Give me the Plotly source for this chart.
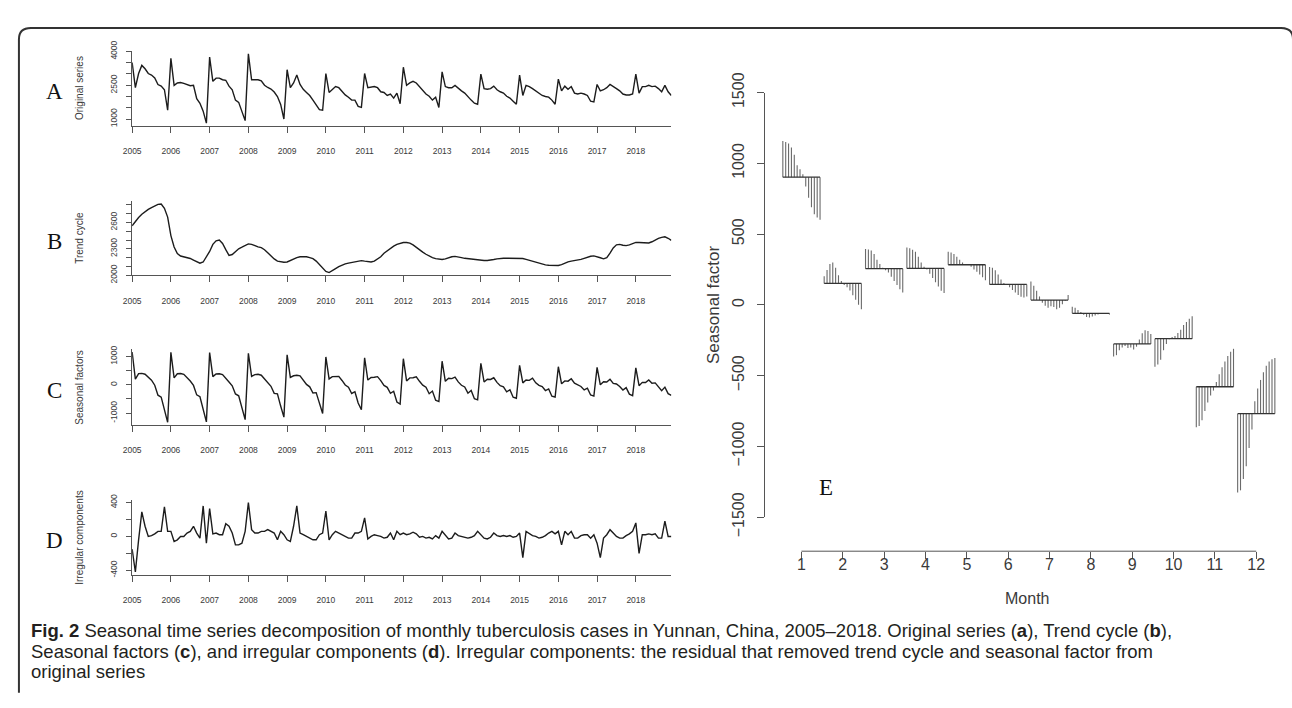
import plotly.graph_objects as go

W, H = 1292, 708

YEARS = list(range(2005, 2019))
MONTH_LABELS = [str(m) for m in range(1, 13)]

# ---- Panel A: original series (monthly, 2005-01 .. 2018-12)
original_series = [
    3510, 2393, 3020, 3380, 3230, 3020, 2950, 2820, 2530, 2460, 2300, 1390,
    3690, 2494, 2600, 2620, 2580, 2520, 2480, 2500, 1900, 1700, 1350, 820,
    3749, 2674, 2814, 2814, 2744, 2720, 2460, 2300, 1837, 1740, 1347, 930,
    3890, 2744, 2744, 2744, 2700, 2500, 2400, 2333, 2200, 2000, 1650, 1000,
    3190, 2393, 2602, 2950, 2535, 2320, 2180, 2045, 1840, 1630, 1420, 1390,
    3020, 2180, 2300, 2440, 2390, 2210, 2070, 1970, 1840, 1840, 1560, 1520,
    3020, 2393, 2420, 2440, 2390, 2210, 2180, 2045, 2110, 1930, 2150, 1680,
    3300, 2494, 2602, 2674, 2600, 2440, 2300, 2110, 2010, 1840, 1970, 1515,
    3092, 2440, 2390, 2390, 2494, 2350, 2250, 2150, 1970, 1840, 1700, 1655,
    2995, 2350, 2320, 2350, 2460, 2300, 2210, 2150, 2010, 1930, 1790, 1655,
    2950, 2045, 2494, 2440, 2350, 2250, 2110, 2045, 2000, 1970, 1840, 1655,
    2770, 2250, 2460, 2320, 2440, 2150, 2110, 2150, 2110, 2045, 1790, 1760,
    2535, 2250, 2300, 2390, 2535, 2460, 2350, 2250, 2110, 2070, 2070, 2110,
    2995, 2150, 2440, 2440, 2494, 2440, 2460, 2350, 2210, 2494, 2210, 2045,
]

# ---- Panel B: trend cycle
trend_cycle = [
    2562, 2610, 2655, 2692, 2722, 2748, 2768, 2787, 2805, 2808, 2760, 2660,
    2450, 2320, 2245, 2218, 2210, 2204, 2190, 2172, 2150, 2136, 2150, 2205,
    2270, 2350, 2390, 2400, 2360, 2290, 2225, 2235, 2270, 2300, 2318, 2340,
    2356, 2350, 2333, 2322, 2313, 2290, 2255, 2215, 2185, 2160, 2150, 2148,
    2150, 2168, 2185, 2200, 2210, 2212, 2210, 2200, 2188, 2160, 2120, 2080,
    2042, 2030, 2048, 2075, 2098, 2115, 2128, 2137, 2146, 2153, 2162, 2166,
    2160, 2155, 2150, 2160, 2185, 2210, 2250, 2280, 2305, 2330, 2350, 2365,
    2372, 2372, 2365, 2345, 2315, 2290, 2262, 2238, 2215, 2200, 2188, 2182,
    2179, 2185, 2198, 2210, 2214, 2210, 2200, 2192, 2187, 2182, 2176, 2170,
    2168, 2167, 2167, 2170, 2178, 2186, 2192, 2193, 2193, 2193, 2193, 2193,
    2192, 2190, 2180, 2168, 2157, 2147, 2135, 2124, 2117, 2113, 2110, 2108,
    2110, 2120, 2138, 2152, 2160, 2165, 2172, 2180, 2192, 2205, 2215, 2220,
    2212, 2198, 2186, 2200, 2250, 2310, 2345, 2350, 2340, 2336, 2345, 2360,
    2372, 2372, 2368, 2365, 2366, 2380, 2400, 2418, 2430, 2436, 2420, 2395,
]

# ---- Panel D: irregular components
irregular = [
    -150, -420, -40, 290, 120, 0, 10, 30, 60, 60, 350, 60,
    60, -60, -40, 0, 0, 40, 60, 120, 40, -20, 360, -80,
    330, 30, 40, 20, 20, 150, 120, 40, -100, -100, -80, 60,
    400, 80, 40, 40, 60, 60, 80, 60, 40, -40, 60, 20,
    -40, -60, 120, 360, 40, 20, 0, -20, -40, -40, 20, 40,
    300, -40, 20, 60, 40, 20, 0, -20, -20, 40, 40, 60,
    220, -30, 0, 20, 10, 0, -20, -10, 40, -40, 60, 20,
    40, 20, 30, 50, 30, -10, 0, -20, -10, -30, 10, -20,
    60, 20, -30, -20, 40, 10, 0, -10, -20, -10, 10, 60,
    20, -20, -30, -10, 40, 10, 0, 10, 0, 10, -10, 0,
    40, -250, 60, 30, 10, 0, -20, -10, 10, 40, 60, 30,
    60, -100, 60, 20, 60, -20, -20, 10, 20, 20, -20, 20,
    -80, -250, -20, 20, 80, 40, 0, -20, -20, 10, 30, 60,
    160, -200, 20, 20, 30, 20, 30, -20, -20, 180, 0, 0,
]

# ---- Panels C and E: seasonal factors by calendar month, years 2005..2018
sf_jan = [1158, 1151, 1140, 1113, 1062, 987, 958, 924, 836, 758, 691, 640, 618, 602]
sf_feb = [202, 247, 290, 300, 262, 210, 170, 140, 125, 102, 69, 36, 2, -31]
sf_mar = [395, 392, 385, 360, 320, 290, 262, 245, 230, 200, 170, 140, 110, 88]
sf_apr = [405, 400, 390, 375, 340, 300, 270, 250, 220, 190, 160, 130, 100, 85]
sf_may = [375, 370, 360, 340, 320, 300, 290, 282, 270, 250, 235, 215, 195, 175]
sf_jun = [268, 262, 245, 215, 180, 155, 148, 125, 105, 88, 70, 58, 52, 60]
sf_jul = [165, 135, 100, 60, 15, -5, -20, -10, -15, -30, -20, 5, 30, 70]
sf_aug = [-13, -20, -35, -50, -70, -85, -88, -82, -75, -68, -62, -58, -60, -68]
sf_sep = [-365, -355, -320, -300, -290, -305, -300, -315, -295, -245, -200, -178, -185, -205]
sf_oct = [-436, -420, -387, -320, -276, -242, -226, -220, -198, -176, -142, -120, -98, -80]
sf_nov = [-865, -855, -815, -750, -690, -640, -605, -545, -490, -440, -400, -360, -330, -310]
sf_dec = [-1325, -1310, -1230, -1140, -1010, -880, -680, -590, -530, -475, -430, -400, -383, -375]
seasonal_by_month = [sf_jan, sf_feb, sf_mar, sf_apr, sf_may, sf_jun,
                     sf_jul, sf_aug, sf_sep, sf_oct, sf_nov, sf_dec]

# ---------------------------------------------------------------------------
seasonal_series = [seasonal_by_month[m][y] for y in range(len(YEARS)) for m in range(12)]
time = [YEARS[0] + i / 12 for i in range(len(original_series))]


def fx(p):
    return p / W


def fy(p):
    return 1 - p / H


def r_range(vals):
    """Axis range padded by 4% on each side (R's default)."""
    lo, hi = min(vals), max(vals)
    d = hi - lo
    return [lo - 0.04 * d, hi + 0.04 * d]


AXC = "#555555"
TXC = "#3a3a3a"
LINE = "#1c1c1c"

fig = go.Figure()

panels = [
    # series, axis suffix, plot-region top/bottom (px), tick values, labelled ticks, title, letter
    (original_series, "", 33.0, 112.2,
     [1000, 1500, 2000, 2500, 3000, 3500, 4000], [1000, 2500, 4000],
     "Original series", "A"),
    (trend_cycle, "2", 192.2, 270.6,
     [2000, 2100, 2200, 2300, 2400, 2500, 2600, 2700, 2800], [2000, 2300, 2600],
     "Trend cycle", "B"),
    (seasonal_series, "3", 349.0, 429.4,
     [-1000, -500, 0, 500, 1000], [-1000, 0, 1000],
     "Seasonal factors", "C"),
    (irregular, "4", 508.5, 588.0,
     [-400, -200, 0, 200, 400], [-400, 0, 400],
     "Irregular components", "D"),
]

annotations = []
for series, sfx, top, bot, tv, lab, title, letter in panels:
    xa, ya = "x" + sfx, "y" + sfx
    fig.add_trace(go.Scatter(x=time, y=series, xaxis=xa, yaxis=ya, mode="lines",
                             line=dict(color=LINE, width=1.4), showlegend=False,
                             hoverinfo="skip"))
    fig.update_layout(**{
        "xaxis" + sfx: dict(domain=[fx(124), fx(667)], range=[time[0], time[-1]],
                            anchor=ya, tickmode="array", tickvals=YEARS,
                            ticktext=[str(y) for y in YEARS], ticks="outside", ticklen=6,
                            tickcolor=AXC, showline=True, linecolor=AXC, linewidth=1,
                            showgrid=False, zeroline=False, ticklabelstandoff=11,
                            tickfont=dict(family="Liberation Sans", size=8.5, color=TXC)),
        "yaxis" + sfx: dict(domain=[fy(bot), fy(top)], range=r_range(series), anchor=xa,
                            tickmode="array", tickvals=tv,
                            ticktext=[str(v) if v in lab else "" for v in tv],
                            ticks="outside", ticklen=5, tickcolor=AXC, showline=True,
                            linecolor=AXC, linewidth=1, showgrid=False, zeroline=False,
                            tickangle=-90, ticklabelstandoff=6,
                            tickfont=dict(family="Liberation Sans", size=8.5, color=TXC)),
    })
    mid = (top + bot) / 2
    annotations.append(dict(x=fx(71), y=fy(mid), xref="paper", yref="paper",
                            xanchor="center", yanchor="middle",
                            text=title, textangle=-90, showarrow=False,
                            font=dict(family="Liberation Sans", size=10, color=TXC)))
    annotations.append(dict(x=fx(46), y=fy(mid + 3), xref="paper", yref="paper",
                            xanchor="center", yanchor="middle",
                            text=letter, showarrow=False,
                            font=dict(family="Liberation Serif", size=23, color="#111")))

# ---- Panel E: seasonal factors by month
bx, by, mx, my = [], [], [], []
for m, vals in enumerate(seasonal_by_month, start=1):
    base = sum(vals) / len(vals)
    n = len(vals)
    for j, v in enumerate(vals):
        xx = m - 0.45 + 0.9 * j / (n - 1)
        bx += [xx, xx, None]
        by += [base, v, None]
    mx += [m - 0.45, m + 0.45, None]
    my += [base, base, None]

fig.add_trace(go.Scatter(x=bx, y=by, xaxis="x5", yaxis="y5", mode="lines",
                         line=dict(color="#6a6a6a", width=1.1), showlegend=False,
                         hoverinfo="skip"))
fig.add_trace(go.Scatter(x=mx, y=my, xaxis="x5", yaxis="y5", mode="lines",
                         line=dict(color="#333333", width=1.3), showlegend=False,
                         hoverinfo="skip"))

E_LEFT, E_RIGHT = 761, 1290
E_C1, E_C12 = 798, 1256
unit = (E_C12 - E_C1) / 11
xr = [1 - (E_C1 - E_LEFT) / unit, 12 + (E_RIGHT - E_C12) / unit]
E_AXIS_Y = 563

fig.update_layout(
    xaxis5=dict(domain=[fx(E_LEFT), fx(E_RIGHT)], range=xr, anchor="free",
                position=fy(E_AXIS_Y), tickmode="array", tickvals=list(range(1, 13)),
                ticktext=MONTH_LABELS, ticks="outside", ticklen=7, tickcolor=AXC,
                showline=False, showgrid=False, zeroline=False, ticklabelstandoff=-8,
                tickfont=dict(family="Liberation Sans", size=16, color=TXC)),
    yaxis5=dict(domain=[fy(527), fy(77)], range=[-1500, 1500], anchor="x5",
                tickmode="array", tickvals=[-1500, -1000, -500, 0, 500, 1000, 1500],
                ticks="outside", ticklen=7, tickcolor=AXC, showline=True,
                linecolor=AXC, linewidth=1, showgrid=False, zeroline=False,
                tickangle=-90, ticklabelstandoff=6,
                tickfont=dict(family="Liberation Sans", size=16, color=TXC)),
)

shapes = [
    dict(type="line", xref="x5", yref="paper", x0=1, x1=12,
         y0=fy(E_AXIS_Y), y1=fy(E_AXIS_Y), line=dict(color=AXC, width=1)),
]

# frame: rounded top corners, open at the bottom and right (runs off the page)
L, T, R, r = 10, 8.5, 1293, 12
path = (f"M {fx(L)},{fy(H + 5)} L {fx(L)},{fy(T + r)} Q {fx(L)},{fy(T)} {fx(L + r)},{fy(T)} "
        f"L {fx(R - r)},{fy(T)} Q {fx(R)},{fy(T)} {fx(R)},{fy(T + r)} L {fx(R)},{fy(H + 5)}")
shapes.append(dict(type="path", xref="paper", yref="paper", path=path,
                   line=dict(color="#333333", width=2)))

annotations += [
    dict(x=fx(710), y=fy(302), xref="paper", yref="paper", text="Seasonal factor",
         xanchor="center", yanchor="middle", textangle=-90, showarrow=False,
         font=dict(family="Liberation Sans", size=17, color=TXC)),
    dict(x=fx(1025), y=fy(613), xref="paper", yref="paper", text="Month",
         xanchor="center", yanchor="middle", showarrow=False,
         font=dict(family="Liberation Sans", size=16, color=TXC)),
    dict(x=fx(823), y=fy(495), xref="paper", yref="paper", text="E",
         xanchor="center", yanchor="middle", showarrow=False,
         font=dict(family="Liberation Serif", size=23, color="#111")),
]

CAP = dict(family="Liberation Sans", size=18.5, color="#231f20")
cap_lines = [
    "<b>Fig. 2</b> Seasonal time series decomposition of monthly tuberculosis cases in Yunnan, "
    "China, 2005–2018. Original series (<b>a</b>), Trend cycle (<b>b</b>),",
    "Seasonal factors (<b>c</b>), and irregular components (<b>d</b>). Irregular components: "
    "the residual that removed trend cycle and seasonal factor from",
    "original series",
]
for k, t in enumerate(cap_lines):
    annotations.append(dict(x=fx(20), y=fy(647 + 22 * k), xref="paper", yref="paper",
                            xanchor="left", yanchor="middle",
                            text=t, showarrow=False, font=CAP))

fig.update_layout(width=W, height=H, margin=dict(l=0, r=0, t=0, b=0),
                  paper_bgcolor="white", plot_bgcolor="white",
                  annotations=annotations, shapes=shapes, showlegend=False)

fig.write_html("out.html")
